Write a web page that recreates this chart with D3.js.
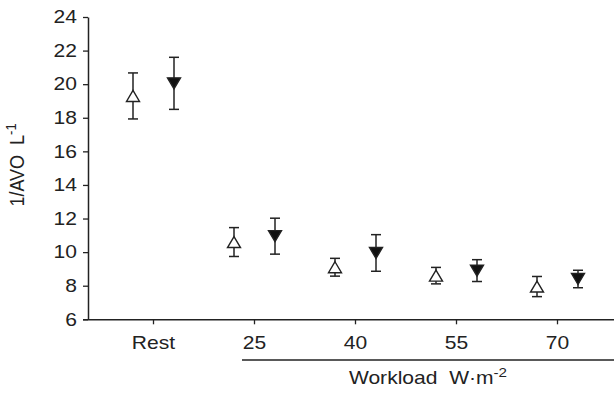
<!DOCTYPE html>
<html>
<head>
<meta charset="utf-8">
<script src="https://cdn.jsdelivr.net/npm/d3@7"></script>
<style>
  body { margin: 0; background: #fff; }
  text { font-family: "Liberation Sans", Arial, sans-serif; fill: #222; white-space: pre; }
</style>
</head>
<body>
<script>
(function(){

//categories along the x axis
var categories = ["Rest", "25", "40", "55", "70"];
//open triangles (first group)
var openMean = [19.3, 10.6, 9.1, 8.6, 7.95];
var openErr  = [1.37, 0.86, 0.53, 0.49, 0.6];
//filled triangles (second group)
var filledMean = [20.05, 10.95, 9.95, 8.9, 8.4];
var filledErr  = [1.55, 1.07, 1.09, 0.65, 0.52];
var yTicks = [6, 8, 10, 12, 14, 16, 18, 20, 22, 24];

var width = 614, height = 397;
var stretch = 1.17; //the lettering in the original is a bit wide

var svg = d3.select("body")
    .append("svg")
    .attr("width", width)
    .attr("height", height);

var x = d3.scalePoint()
    .domain(categories)
    .range([153, 557]);

var y = d3.scaleLinear()
    .domain([6, 24])
    .range([319.3, 17]);

//y axis
var yAxis = svg.append("g")
    .attr("transform", "translate(88,0)")
    .call(d3.axisLeft(y).tickValues(yTicks).tickSize(5).tickSizeOuter(0).tickPadding(4));
yAxis.select(".domain").attr("stroke", "#222").attr("stroke-width", 1.5);
yAxis.selectAll(".tick line").attr("stroke", "#222").attr("stroke-width", 1.3);
yAxis.selectAll(".tick text")
    .attr("font-size", 18)
    .attr("fill", "#222")
    .attr("x", -11 / stretch)
    .attr("transform", "scale(" + stretch + ",1)");

//x axis
var xAxis = svg.append("g")
    .attr("transform", "translate(0,319.3)")
    .call(d3.axisBottom(x).tickSize(5).tickSizeOuter(0).tickPadding(12));
xAxis.select(".domain").attr("d", "M83,0.5H614").attr("stroke", "#222").attr("stroke-width", 1.5);
xAxis.selectAll(".tick line").attr("stroke", "#222").attr("stroke-width", 1.3);
xAxis.selectAll(".tick text")
    .attr("font-size", 18)
    .attr("fill", "#222")
    .attr("transform", "scale(" + stretch + ",1)");

//line under the workload ticks
svg.append("line")
    .attr("x1", 242).attr("x2", 614)
    .attr("y1", 360).attr("y2", 360)
    .attr("stroke", "#222").attr("stroke-width", 1.3);

//x title
var xt = svg.append("text")
    .attr("transform", "translate(428,384) scale(" + stretch + ",1)")
    .attr("text-anchor", "middle")
    .attr("font-size", 18);
xt.append("tspan").text("Workload  W\u00b7m");
xt.append("tspan").attr("dy", -7).attr("font-size", 13).text("-2");

//y title
var yt = svg.append("text")
    .attr("transform", "translate(24,165) scale(" + stretch + ",1) rotate(-90)")
    .attr("text-anchor", "middle")
    .attr("font-size", 18);
yt.append("tspan").text("1/AVO  L");
yt.append("tspan").attr("dy", -7).attr("font-size", 13).text("-1");

function drawSeries(means, errs, dx, filled){
    var g = svg.append("g");
    var pts = g.selectAll(".pt")
        .data(means.map(function(d, i){ return {cat: categories[i], m: d, e: errs[i]}; }))
        .enter()
        .append("g")
        .attr("transform", function(d){ return "translate(" + (x(d.cat) + dx) + ",0)"; });

    //whisker
    pts.append("line")
        .attr("x1", 0).attr("x2", 0)
        .attr("y1", function(d){ return y(d.m + d.e); })
        .attr("y2", function(d){ return y(d.m - d.e); })
        .attr("stroke", "#222").attr("stroke-width", 1.5);
    //caps
    [1, -1].forEach(function(s){
        pts.append("line")
            .attr("x1", -5).attr("x2", 5)
            .attr("y1", function(d){ return y(d.m + s * d.e); })
            .attr("y2", function(d){ return y(d.m + s * d.e); })
            .attr("stroke", "#222").attr("stroke-width", 1.5);
    });
    //triangle marker
    pts.append("path")
        .attr("d", function(d){
            var cy = y(d.m), h = 11, w = 6.5;
            if (filled) {
                return "M" + (-w) + "," + (cy - h/2) + "L" + w + "," + (cy - h/2) + "L0," + (cy + h/2) + "Z";
            }
            return "M0," + (cy - h/2) + "L" + w + "," + (cy + h/2) + "L" + (-w) + "," + (cy + h/2) + "Z";
        })
        .attr("fill", filled ? "#111" : "#fff")
        .attr("stroke", "#222")
        .attr("stroke-width", 1.4);
}

drawSeries(openMean, openErr, -20, false);
drawSeries(filledMean, filledErr, 21, true);

})();
</script>
</body>
</html>
